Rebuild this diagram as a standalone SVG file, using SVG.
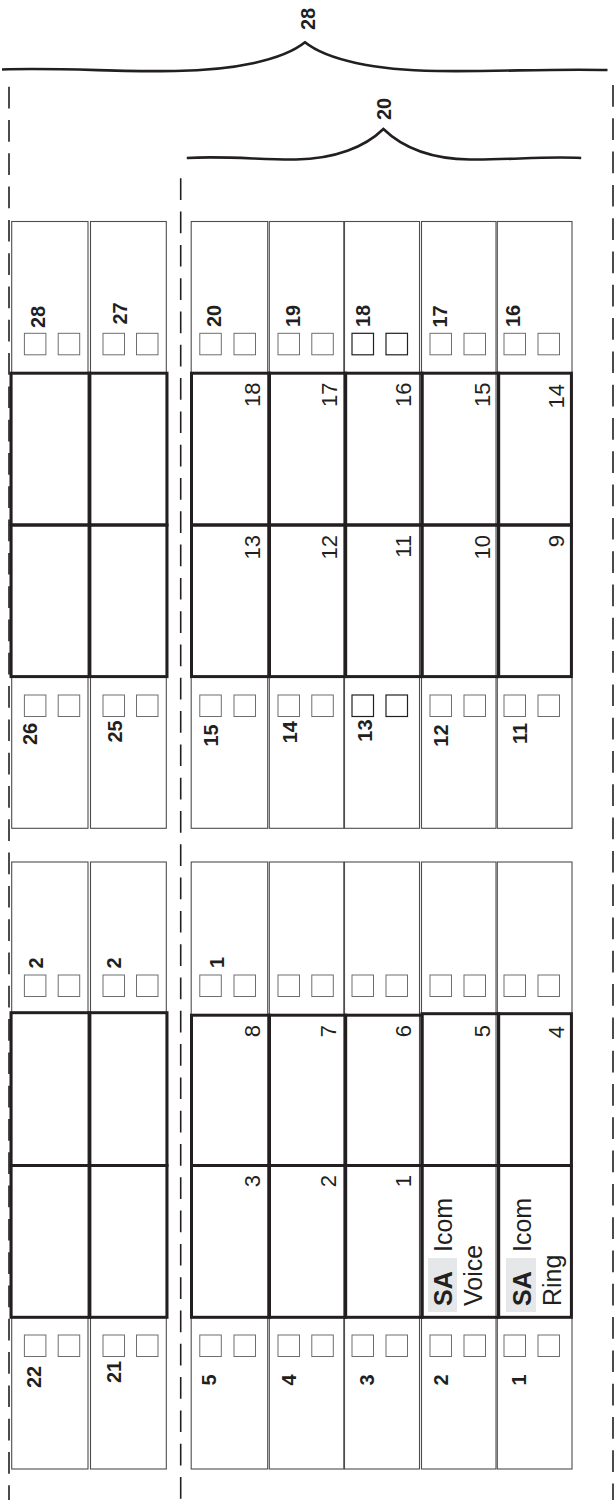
<svg xmlns="http://www.w3.org/2000/svg" width="616" height="1500" viewBox="0 0 616 1500">
<style>
.cell{fill:#fff;stroke:#4d4d4d;stroke-width:1.1}
.sq{fill:#fff;stroke:#6d6e71;stroke-width:1}
.sqd{fill:#fff;stroke:#231f20;stroke-width:1.2}
.thick{fill:none;stroke:#231f20;stroke-width:3}
.dash{fill:none;stroke:#231f20;stroke-width:1.6;stroke-dasharray:21.7 11.6}
.brace{fill:none;stroke:#231f20;stroke-width:2.6;stroke-linejoin:miter}
.lb{font-family:"Liberation Sans",Arial,sans-serif;font-weight:bold;font-size:20px;fill:#231f20}
.num{font-family:"Liberation Sans",Arial,sans-serif;font-size:22px;fill:#231f20;text-anchor:end}
.fk{font-family:"Liberation Sans",Arial,sans-serif;font-size:25px;fill:#231f20}
.fkb{font-weight:bold}
</style>
<g id="connectors">
<path class="dash" d="M9,86.7 V1500"/>
<path class="dash" d="M180.7,178.3 V1500"/>
<path class="dash" d="M613,85 V1500"/>
<path class="brace" d="M2,69.5 C60,67.5 120,72 175,71 C235,70 283,60 305,42.3 C327,60 375,70 437,71 C495,72 550,68.5 607.5,70"/>
<path class="brace" d="M186.8,158 C225,155.5 262,160 296,159.5 C335,159 365,147 383.4,129 C402,147 430,159 470,159.5 C510,160 545,156 581.2,158"/>
<text class="lb" transform="translate(314.5,30) rotate(-90)">28</text>
<text class="lb" transform="translate(391,120) rotate(-90)">20</text>
</g>
<!-- upper section thin cells -->
<g id="upper-keys">
<g id="key-28"><rect class="cell" x="11.7" y="221.5" width="76.3" height="606.8"/><rect class="sq" x="24.4" y="333.3" width="21.5" height="21.5"/><rect class="sq" x="58.2" y="333.3" width="21.5" height="21.5"/><text class="lb" transform="translate(45,328) rotate(-90)">28</text>
<rect class="sq" x="24.4" y="695" width="21.5" height="21.5"/><rect class="sq" x="58.2" y="695" width="21.5" height="21.5"/><text class="lb" transform="translate(37.4,745) rotate(-90)">26</text></g>
<g id="key-27"><rect class="cell" x="90.5" y="221.5" width="75.8" height="606.8"/><rect class="sq" x="103" y="333.3" width="21.5" height="21.5"/><rect class="sq" x="136.5" y="333.3" width="21.5" height="21.5"/><text class="lb" transform="translate(126.5,324.5) rotate(-90)">27</text>
<rect class="sq" x="103" y="695" width="21.5" height="21.5"/><rect class="sq" x="136.5" y="695" width="21.5" height="21.5"/><text class="lb" transform="translate(122,742.5) rotate(-90)">25</text></g>
<g id="key-20"><rect class="cell" x="191.2" y="221.5" width="76.5" height="606.8"/><rect class="sq" x="199.8" y="333.3" width="21.5" height="21.5"/><rect class="sq" x="234" y="333.3" width="21.5" height="21.5"/><text class="lb" transform="translate(220.5,327) rotate(-90)">20</text>
<rect class="sq" x="199.8" y="695" width="21.5" height="21.5"/><rect class="sq" x="234" y="695" width="21.5" height="21.5"/><text class="lb" transform="translate(218.2,746.5) rotate(-90)">15</text></g>
<g id="key-19"><rect class="cell" x="269.3" y="221.5" width="74.5" height="606.8"/><rect class="sq" x="278" y="333.3" width="21.5" height="21.5"/><rect class="sq" x="311.8" y="333.3" width="21.5" height="21.5"/><text class="lb" transform="translate(300,327) rotate(-90)">19</text>
<rect class="sq" x="278" y="695" width="21.5" height="21.5"/><rect class="sq" x="311.8" y="695" width="21.5" height="21.5"/><text class="lb" transform="translate(297,743.3) rotate(-90)">14</text></g>
<g id="key-18"><rect class="cell" x="344.5" y="221.5" width="75" height="606.8"/><rect class="sqd" x="352" y="333.3" width="21.5" height="21.5"/><rect class="sqd" x="386" y="333.3" width="21.5" height="21.5"/><text class="lb" transform="translate(370,327) rotate(-90)">18</text>
<rect class="sqd" x="352" y="695" width="21.5" height="21.5"/><rect class="sqd" x="386" y="695" width="21.5" height="21.5"/><text class="lb" transform="translate(371.6,741.7) rotate(-90)">13</text></g>
<g id="key-17"><rect class="cell" x="421.5" y="221.5" width="74.5" height="606.8"/><rect class="sq" x="430" y="333.3" width="21.5" height="21.5"/><rect class="sq" x="464" y="333.3" width="21.5" height="21.5"/><text class="lb" transform="translate(446.7,327.5) rotate(-90)">17</text>
<rect class="sq" x="430" y="695" width="21.5" height="21.5"/><rect class="sq" x="464" y="695" width="21.5" height="21.5"/><text class="lb" transform="translate(448.3,746.7) rotate(-90)">12</text></g>
<g id="key-16"><rect class="cell" x="497.3" y="221.5" width="74.7" height="606.8"/><rect class="sq" x="504" y="333.3" width="21.5" height="21.5"/><rect class="sq" x="538" y="333.3" width="21.5" height="21.5"/><text class="lb" transform="translate(520,327) rotate(-90)">16</text>
<rect class="sq" x="504" y="695" width="21.5" height="21.5"/><rect class="sq" x="538" y="695" width="21.5" height="21.5"/><text class="lb" transform="translate(527,744) rotate(-90)">11</text></g>
</g>
<g id="upper-fields">
<rect class="thick" x="11" y="373.2" width="78.7" height="151.8"/><rect class="thick" x="89.7" y="373.2" width="77.3" height="151.8"/>
<rect class="thick" x="11" y="525" width="78.7" height="151.6"/><rect class="thick" x="89.7" y="525" width="77.3" height="151.6"/>
<rect class="thick" x="191.5" y="373.2" width="77.9" height="151.8"/><rect class="thick" x="269.4" y="373.2" width="76.2" height="151.8"/><rect class="thick" x="345.6" y="373.2" width="76.4" height="151.8"/><rect class="thick" x="422" y="373.2" width="76.6" height="151.8"/><rect class="thick" x="498.6" y="373.2" width="72.8" height="151.8"/>
<rect class="thick" x="191.5" y="525" width="77.9" height="151.6"/><rect class="thick" x="269.4" y="525" width="76.2" height="151.6"/><rect class="thick" x="345.6" y="525" width="76.4" height="151.6"/><rect class="thick" x="422" y="525" width="76.6" height="151.6"/><rect class="thick" x="498.6" y="525" width="72.8" height="151.6"/>
<text class="num" transform="translate(260.3,382.5) rotate(-90)">18</text>
<text class="num" transform="translate(337,382.5) rotate(-90)">17</text>
<text class="num" transform="translate(411,382.5) rotate(-90)">16</text>
<text class="num" transform="translate(489.6,382.5) rotate(-90)">15</text>
<text class="num" transform="translate(564.3,384) rotate(-90)">14</text>
<text class="num" transform="translate(260.3,535) rotate(-90)">13</text>
<text class="num" transform="translate(337,535) rotate(-90)">12</text>
<text class="num" transform="translate(411,535) rotate(-90)">11</text>
<text class="num" transform="translate(489.6,535) rotate(-90)">10</text>
<text class="num" transform="translate(564.3,535) rotate(-90)">9</text>
</g>
<!-- lower section -->
<g id="lower-keys">
<g id="key-22"><rect class="cell" x="11.7" y="862" width="76.3" height="607"/><rect class="sq" x="24.4" y="975" width="21.5" height="21.5"/><rect class="sq" x="58.2" y="975" width="21.5" height="21.5"/><text class="lb" transform="translate(43.3,968.5) rotate(-90)">2</text>
<rect class="sq" x="24.4" y="1335" width="21.5" height="21.5"/><rect class="sq" x="58.2" y="1335" width="21.5" height="21.5"/><text class="lb" transform="translate(41.3,1388) rotate(-90)">22</text></g>
<g id="key-21"><rect class="cell" x="90.5" y="862" width="75.8" height="607"/><rect class="sq" x="103" y="975" width="21.5" height="21.5"/><rect class="sq" x="136.5" y="975" width="21.5" height="21.5"/><text class="lb" transform="translate(120.7,968.5) rotate(-90)">2</text>
<rect class="sq" x="103" y="1335" width="21.5" height="21.5"/><rect class="sq" x="136.5" y="1335" width="21.5" height="21.5"/><text class="lb" transform="translate(120.7,1383) rotate(-90)">21</text></g>
<g id="key-5"><rect class="cell" x="191.2" y="862" width="76.5" height="607"/><rect class="sq" x="199.8" y="975" width="21.5" height="21.5"/><rect class="sq" x="234" y="975" width="21.5" height="21.5"/><text class="lb" transform="translate(224,968) rotate(-90)">1</text>
<rect class="sq" x="199.8" y="1335" width="21.5" height="21.5"/><rect class="sq" x="234" y="1335" width="21.5" height="21.5"/><text class="lb" transform="translate(216.3,1385.5) rotate(-90)">5</text></g>
<g id="key-4"><rect class="cell" x="269.3" y="862" width="74.5" height="607"/><rect class="sq" x="278" y="975" width="21.5" height="21.5"/><rect class="sq" x="311.8" y="975" width="21.5" height="21.5"/>
<rect class="sq" x="278" y="1335" width="21.5" height="21.5"/><rect class="sq" x="311.8" y="1335" width="21.5" height="21.5"/><text class="lb" transform="translate(295.7,1385.5) rotate(-90)">4</text></g>
<g id="key-3"><rect class="cell" x="344.5" y="862" width="75" height="607"/><rect class="sq" x="352" y="975" width="21.5" height="21.5"/><rect class="sq" x="386" y="975" width="21.5" height="21.5"/>
<rect class="sq" x="352" y="1335" width="21.5" height="21.5"/><rect class="sq" x="386" y="1335" width="21.5" height="21.5"/><text class="lb" transform="translate(373.6,1385.5) rotate(-90)">3</text></g>
<g id="key-2"><rect class="cell" x="421.5" y="862" width="74.5" height="607"/><rect class="sq" x="430" y="975" width="21.5" height="21.5"/><rect class="sq" x="464" y="975" width="21.5" height="21.5"/>
<rect class="sq" x="430" y="1335" width="21.5" height="21.5"/><rect class="sq" x="464" y="1335" width="21.5" height="21.5"/><text class="lb" transform="translate(448.3,1385.5) rotate(-90)">2</text></g>
<g id="key-1"><rect class="cell" x="497.3" y="862" width="74.7" height="607"/><rect class="sq" x="504" y="975" width="21.5" height="21.5"/><rect class="sq" x="538" y="975" width="21.5" height="21.5"/>
<rect class="sq" x="504" y="1335" width="21.5" height="21.5"/><rect class="sq" x="538" y="1335" width="21.5" height="21.5"/><text class="lb" transform="translate(526,1385.5) rotate(-90)">1</text></g>
</g>
<g id="lower-fields">
<rect class="thick" x="11" y="1012.7" width="78.7" height="152.8"/><rect class="thick" x="89.7" y="1012.7" width="77.3" height="152.8"/>
<rect class="thick" x="11" y="1165.5" width="78.7" height="151.8"/><rect class="thick" x="89.7" y="1165.5" width="77.3" height="151.8"/>
<rect class="thick" x="191.5" y="1015.2" width="77.9" height="150.3"/><rect class="thick" x="269.4" y="1015.2" width="76.2" height="150.3"/><rect class="thick" x="345.6" y="1015.2" width="76.4" height="150.3"/><rect class="thick" x="422" y="1013.7" width="76.6" height="151.8"/><rect class="thick" x="498.6" y="1013.7" width="72.8" height="151.8"/>
<rect class="thick" x="191.5" y="1165.5" width="77.9" height="151.8"/><rect class="thick" x="269.4" y="1165.5" width="76.2" height="151.8"/><rect class="thick" x="345.6" y="1165.5" width="76.4" height="151.8"/><rect class="thick" x="422" y="1165.5" width="76.6" height="151.8"/><rect class="thick" x="498.6" y="1165.5" width="72.8" height="151.8"/>
<text class="num" transform="translate(259.5,1025) rotate(-90)">8</text>
<text class="num" transform="translate(336,1025) rotate(-90)">7</text>
<text class="num" transform="translate(411,1025) rotate(-90)">6</text>
<text class="num" transform="translate(489.6,1025) rotate(-90)">5</text>
<text class="num" transform="translate(564.3,1026) rotate(-90)">4</text>
<text class="num" transform="translate(259.5,1175) rotate(-90)">3</text>
<text class="num" transform="translate(336,1175) rotate(-90)">2</text>
<text class="num" transform="translate(411,1175) rotate(-90)">1</text>
<g id="sa-voice">
<rect x="428" y="1258" width="29" height="54" fill="#e6e7e8"/>
<text class="fk" transform="translate(452,1306) rotate(-90)"><tspan class="fkb">SA</tspan></text>
<text class="fk" transform="translate(452,1252) rotate(-90)">Icom</text>
<text class="fk" transform="translate(482,1306) rotate(-90)">Voice</text>
</g>
<g id="sa-ring">
<rect x="506" y="1258" width="30" height="54" fill="#e6e7e8"/>
<text class="fk" transform="translate(531,1306) rotate(-90)"><tspan class="fkb">SA</tspan></text>
<text class="fk" transform="translate(531,1252) rotate(-90)">Icom</text>
<text class="fk" transform="translate(561,1306) rotate(-90)">Ring</text>
</g>
</g>
</svg>
